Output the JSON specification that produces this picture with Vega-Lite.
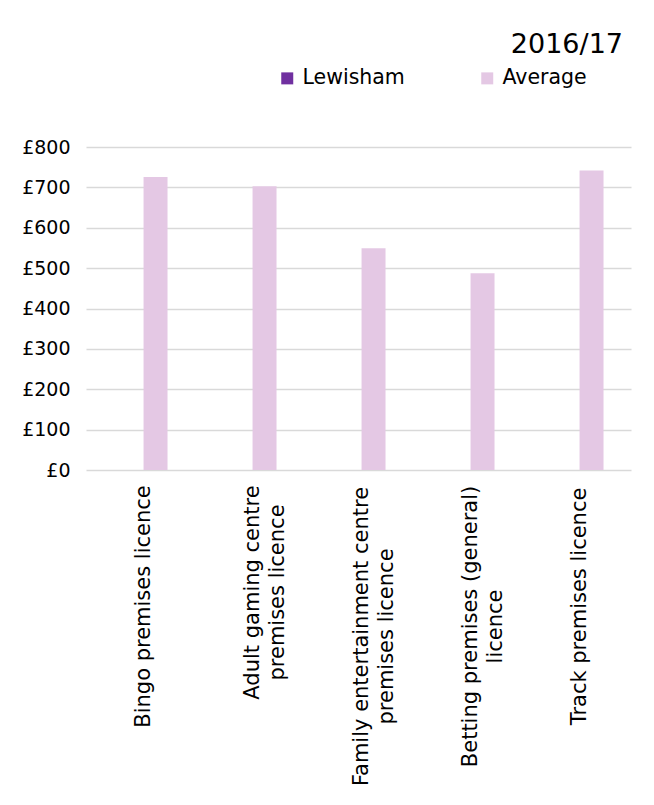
{
  "$schema": "https://vega.github.io/schema/vega-lite/v6.json",
  "width": 545,
  "height": 323,
  "autosize": {"type": "none"},
  "padding": {"left": 86, "top": 147, "right": 23, "bottom": 335},
  "background": "white",
  "title": {
    "text": "2016/17",
    "anchor": "end",
    "orient": "top",
    "frame": "group",
    "font": "DejaVu Sans",
    "fontSize": 27,
    "fontWeight": "normal",
    "color": "#000000",
    "baseline": "alphabetic",
    "offset": 13,
    "dx": -8,
    "dy": 25
  },
  "data": {
    "values": [
      {"licence": "Bingo premises licence", "series": "Lewisham", "fee": 0},
      {"licence": "Bingo premises licence", "series": "Average", "fee": 726},
      {"licence": "Adult gaming centre premises licence", "series": "Lewisham", "fee": 0},
      {"licence": "Adult gaming centre premises licence", "series": "Average", "fee": 703},
      {"licence": "Family entertainment centre premises licence", "series": "Lewisham", "fee": 0},
      {"licence": "Family entertainment centre premises licence", "series": "Average", "fee": 549},
      {"licence": "Betting premises (general) licence", "series": "Lewisham", "fee": 0},
      {"licence": "Betting premises (general) licence", "series": "Average", "fee": 487},
      {"licence": "Track premises licence", "series": "Lewisham", "fee": 0},
      {"licence": "Track premises licence", "series": "Average", "fee": 742}
    ]
  },
  "mark": {"type": "bar", "strokeWidth": 0},
  "encoding": {
    "x": {
      "field": "licence",
      "type": "nominal",
      "sort": null,
      "scale": {"paddingInner": 0.56, "paddingOuter": 0.28, "align": 0.55},
      "axis": {
        "title": null,
        "domain": false,
        "ticks": false,
        "labelAngle": -90,
        "labelFont": "DejaVu Sans",
        "labelFontSize": 21,
        "labelColor": "#000000",
        "labelLineHeight": 25,
        "labelAlign": "center",
        "labelBaseline": "middle",
        "labelLimit": 400,
        "labelPadding": {
          "condition": [
            {"test": "datum.value == 'Bingo premises licence'", "value": 136},
            {"test": "datum.value == 'Adult gaming centre premises licence'", "value": 122},
            {"test": "datum.value == 'Family entertainment centre premises licence'", "value": 166},
            {"test": "datum.value == 'Betting premises (general) licence'", "value": 156}
          ],
          "value": 136
        },
        "labelExpr": "datum.value == 'Adult gaming centre premises licence' ? ['Adult gaming centre', 'premises licence'] : datum.value == 'Family entertainment centre premises licence' ? ['Family entertainment centre', 'premises licence'] : datum.value == 'Betting premises (general) licence' ? ['Betting premises (general)', 'licence'] : datum.label"
      }
    },
    "xOffset": {
      "field": "series",
      "type": "nominal",
      "sort": ["Lewisham", "Average"],
      "scale": {"domain": ["Lewisham", "Average"], "paddingInner": 0, "paddingOuter": 0}
    },
    "y": {
      "field": "fee",
      "type": "quantitative",
      "scale": {"domain": [0, 800], "nice": false},
      "axis": {
        "title": null,
        "values": [0, 100, 200, 300, 400, 500, 600, 700, 800],
        "labelExpr": "'£' + datum.value",
        "domain": false,
        "ticks": false,
        "grid": true,
        "gridColor": "#d9d9d9",
        "gridWidth": 1.5,
        "labelFont": "DejaVu Sans",
        "labelFontSize": 19,
        "labelColor": "#000000",
        "labelPadding": 16
      }
    },
    "color": {
      "field": "series",
      "type": "nominal",
      "scale": {"domain": ["Lewisham", "Average"], "range": ["#7030a0", "#e4c8e4"]},
      "legend": {
        "title": null,
        "orient": "none",
        "legendX": 191,
        "legendY": -79,
        "direction": "horizontal",
        "symbolType": "square",
        "symbolSize": 144,
        "symbolStrokeWidth": 0,
        "labelFont": "DejaVu Sans",
        "labelFontSize": 20.5,
        "labelColor": "#000000",
        "labelOffset": 5,
        "columnPadding": 72,
        "padding": 0
      }
    }
  },
  "config": {"view": {"stroke": null}}
}
